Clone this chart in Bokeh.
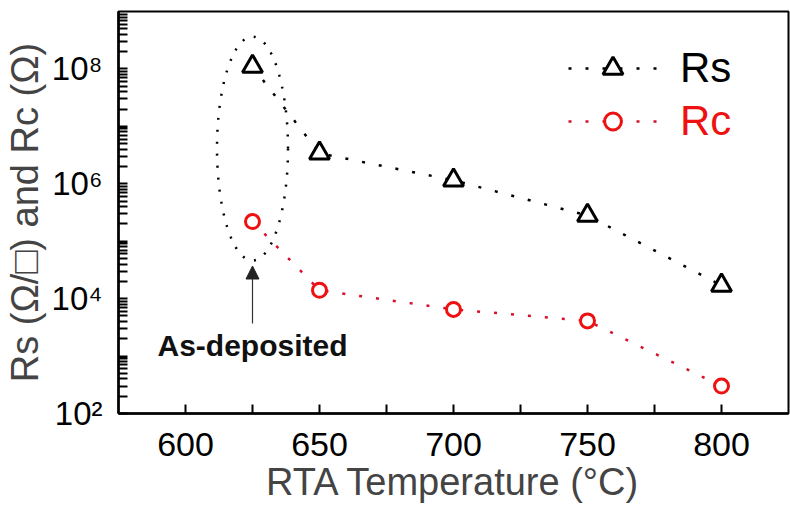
from bokeh.plotting import figure
from bokeh.models import FixedTicker, Legend, LegendItem, Arrow, NormalHead
from bokeh.core.properties import value
from bokeh.embed import file_html
from bokeh.resources import INLINE

# RTA temperatures (°C); 625 is the as-deposited sample
temps = [625, 650, 700, 750, 800]
# sheet resistance Rs (ohm/sq) and contact resistance Rc (ohm)
rs_vals = [1.1e8, 3.4e6, 1.15e6, 2.8e5, 1.7e4]
rc_vals = [2.2e5, 1.4e4, 6.5e3, 4.1e3, 3.0e2]

# x ticks: labelled every 50 °C, unlabelled in between
x_ticks = [600, 625, 650, 675, 700, 725, 750, 775, 800]
x_tick_text = ["600", "", "650", "", "700", "", "750", "", "800"]

# y ticks: 1..9 x 10^n, labelled on every second decade
y_decades = [1e2, 1e3, 1e4, 1e5, 1e6, 1e7, 1e8]
y_decade_text = ["10²", "", "10⁴", "", "10⁶", "", "10⁸"]

x_range = (575, 825)
y_range = (1e2, 1e9)

FONT = "Liberation Sans"

y_ticks = [k * d for d in y_decades for k in range(1, 10)]
y_overrides = {t: "" for t in y_ticks}
y_overrides.update(dict(zip(y_decades, y_decade_text)))

p = figure(width=790, height=511, x_range=x_range, y_range=y_range,
           y_axis_type="log", output_backend="svg", toolbar_location=None,
           min_border_left=118, min_border_right=2, min_border_top=11,
           min_border_bottom=98)
p.grid.visible = False
p.outline_line_color = "black"
p.outline_line_width = 2
p.background_fill_color = "white"
p.border_fill_color = "white"

# x axis
xa = p.xaxis[0]
xa.ticker = FixedTicker(ticks=x_ticks)
xa.major_label_overrides = dict(zip(x_ticks, x_tick_text))
xa.axis_line_width = 2.5
xa.major_tick_in = 9
xa.major_tick_out = 0
xa.major_tick_line_width = 2
xa.major_label_text_font = FONT
xa.major_label_text_font_size = "34px"
xa.major_label_text_color = "black"
xa.major_label_standoff = 19
xa.axis_label = "RTA Temperature (°C)"
xa.axis_label_text_font = FONT
xa.axis_label_text_font_size = "38px"
xa.axis_label_text_font_style = "normal"
xa.axis_label_standoff = 2

# y axis (log)
ya = p.yaxis[0]
ya.ticker = FixedTicker(ticks=y_ticks)
ya.major_label_overrides = y_overrides
ya.axis_line_width = 2.5
ya.major_tick_in = 9
ya.major_tick_out = 0
ya.major_tick_line_width = 1.8
ya.major_label_text_font = FONT
ya.major_label_text_font_size = "33px"
ya.major_label_text_color = "black"
ya.major_label_standoff = 16
ya.axis_label = "Rs (Ω/□) and Rc (Ω)"
ya.axis_label_text_font = FONT
ya.axis_label_text_font_size = "38px"
ya.axis_label_text_font_style = "normal"
ya.axis_label_standoff = 3

# series
rs_line = p.line(temps, rs_vals, line_color="black", line_width=2.5, line_dash="3 14")
rs_pts = p.scatter(temps, rs_vals, marker="triangle", size=20, line_width=3,
                   line_color="black", fill_color="white")
rc_line = p.line(temps, rc_vals, line_color="#d8102a", line_width=2.5, line_dash="3 14")
rc_pts = p.scatter(temps, rc_vals, marker="circle", size=14, line_width=3,
                   line_color="#ee1111", fill_color="white")

# as-deposited marker group and callout
p.ellipse(x=[625], y=[4.1e6], width=71, height=224, width_units="screen",
          height_units="screen", fill_color=None, line_color="black",
          line_width=2.5, line_dash="2 10")
p.add_layout(Arrow(end=NormalHead(size=13, fill_color="#222", line_color="#222"),
                   x_start=625, y_start=3.7e3, x_end=625, y_end=3.7e4,
                   line_color="#333", line_width=1.2))
p.text(x=[625], y=[1.55e3], text=["As-deposited"], text_align="center",
       text_baseline="middle", text_font=value(FONT), text_font_size="30px",
       text_font_style="bold", text_color="#111")

# legends (separate so each label gets its own colour)
leg_rs = Legend(items=[LegendItem(label="Rs", renderers=[rs_line, rs_pts])],
                location=(450, 320), glyph_width=89, glyph_height=50,
                label_standoff=23, padding=0, margin=0, spacing=0,
                border_line_color=None, background_fill_alpha=0,
                label_text_font=FONT, label_text_font_size="42px",
                label_text_color="black")
leg_rc = Legend(items=[LegendItem(label="Rc", renderers=[rc_line, rc_pts])],
                location=(450, 268), glyph_width=89, glyph_height=42,
                label_standoff=23, padding=0, margin=0, spacing=0,
                border_line_color=None, background_fill_alpha=0,
                label_text_font=FONT, label_text_font_size="42px",
                label_text_color="#ee1111")
p.add_layout(leg_rs, "center")
p.add_layout(leg_rc, "center")

open("out.html", "w").write(file_html(p, INLINE))
